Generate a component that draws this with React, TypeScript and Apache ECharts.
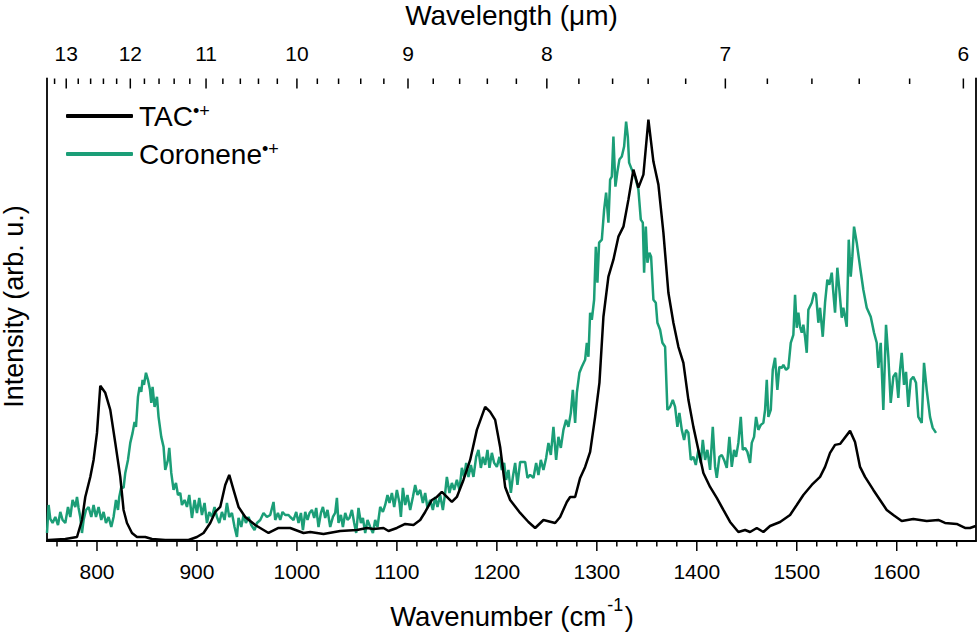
import React, { useEffect, useRef } from "react";
import * as echarts from "echarts";

// TAC•+ spectrum (wavenumber in cm-1, intensity in arb. u.)
const tacWavenumber = [
  750, 751.6, 768.3, 780, 785, 788.3, 793.3, 796.6, 800, 803.3, 808.3, 813.3, 818.3, 823.3, 826.6, 830, 835, 840,
  848.3, 855, 868.3, 891.6, 900, 906.6, 913.3, 918.3, 923.3, 928.3, 932.3, 936.6, 941.6, 948.3, 958.3, 971.6,
  981.6, 993.3, 1006.6, 1013.3, 1026.6, 1043.3, 1060, 1070, 1076.6, 1086.6, 1091.6, 1100, 1108.3, 1116.6, 1123.3,
  1128.3, 1135, 1140, 1145, 1150, 1155, 1160, 1166.6, 1173.3, 1180, 1188.3, 1193.3, 1198.3, 1203.3, 1208.3, 1213.3,
  1223.3, 1231.6, 1238.3, 1246.6, 1258.3, 1263.3, 1270, 1273.3, 1278.3, 1283.3, 1288.3, 1293.3, 1298.3, 1302.6,
  1306.6, 1311.6, 1316.6, 1321.6, 1326.6, 1331.6, 1336.6, 1341.6, 1346.6, 1351.6, 1356.6, 1361.6, 1366.6, 1371.6,
  1376.6, 1381.6, 1386.6, 1391.6, 1396.6, 1401.6, 1406.6, 1413.3, 1420, 1426.6, 1433.3, 1441.6, 1448.3, 1453.3, 1460,
  1466.6, 1473.3, 1483.3, 1493.3, 1500, 1506.6, 1515, 1523.3, 1528.3, 1533.3, 1538.3, 1543.3, 1553.3, 1558.3,
  1563.3, 1568.3, 1576.6, 1583.3, 1590, 1596.6, 1605, 1616.6, 1630, 1641.6, 1648.3, 1660, 1668.3, 1673.3, 1679,
];
const tacIntensity = [
  1, 1, 2, 4, 21, 44, 64, 81, 108, 155, 148, 131, 98, 64, 31, 18, 8, 4,
  4, 2, 1, 1, 4, 8, 18, 29, 34, 56, 66, 51, 34, 24, 16, 8,
  13, 13, 8, 9, 7, 10, 11, 13, 12, 13, 10, 13, 17, 16, 21,
  29, 41, 44, 49, 44, 39, 44, 61, 81, 111, 134, 129, 121, 94, 54, 41,
  28, 19, 13, 21, 18, 24, 39, 44, 44, 63, 74, 89, 124, 158,
  224, 264, 281, 304, 314, 341, 371, 353, 366, 421, 379, 356, 308, 248,
  218, 194, 178, 141, 114, 91, 68, 54, 43, 31, 19, 9, 11, 9, 13,
  9, 15, 19, 26, 36, 46, 56, 64, 74, 88, 96, 97, 110, 99,
  74, 64, 51, 41, 31, 26, 20, 22, 20, 21, 18, 17, 13, 13, 15,
];

// Coronene•+ spectrum
const corWavenumber = [
  750, 751.6, 753.3, 755.6, 758.3, 761, 763.3, 765.6, 768.3, 771, 773.3, 775.6, 778.3, 780, 781.6, 783.3, 785, 786.6,
  789, 791.6, 794.3, 796.6, 799, 801.6, 804.3, 806.6, 809, 811.6, 814.3, 816.6, 819, 821, 822.3, 824.3, 826.6, 828.3,
  831, 833.3, 835.6, 837.6, 839, 841, 842.6, 844.3, 845.6, 847, 849, 851, 853, 854.3, 855.6, 857.6, 860, 861.6,
  864.3, 866.6, 868.3, 871, 872.3, 874.3, 876.6, 879, 881, 883.3, 885, 887.6, 890, 892.3, 895, 897.6, 900, 902.3,
  905, 907.6, 910, 912.3, 915, 917.6, 920, 922.3, 925, 927.6, 930, 932.3, 935, 937.6, 940, 941.6, 944.3, 946.6,
  949, 951.6, 954.3, 957.6, 960, 963.3, 966.6, 970, 973.3, 976.6, 978.3, 981, 983.3, 985.6, 988.3, 991.6,
  993.3, 996.6, 999.3, 1001.6, 1004, 1006, 1008.3, 1010.6, 1012.6, 1015, 1017.3, 1019.3, 1021.6, 1024, 1026,
  1028.3, 1030.6, 1033.3, 1036, 1038.3, 1040, 1041.6, 1044, 1046, 1048.3, 1050.6, 1052.6, 1055, 1057.3, 1059.3,
  1061.6, 1064, 1066, 1068.3, 1070.6, 1073.3, 1076, 1078.3, 1080.6, 1083.3, 1086, 1088.3, 1090.6, 1092.6, 1095,
  1097.3, 1100, 1102.6, 1104, 1106, 1108.3, 1110.6, 1113.3, 1116, 1118.3, 1120.6, 1123.3, 1126, 1128.3, 1130.6,
  1133.3, 1136, 1138.3, 1140.6, 1143.3, 1146, 1148.3, 1150, 1152.6, 1155, 1157.3, 1160, 1162.6, 1165, 1167.3,
  1169.3, 1171.6, 1174, 1176.6, 1179.3, 1181.6, 1184, 1186, 1188.3, 1190.6, 1192.6, 1195, 1197.3, 1200, 1202.6,
  1205, 1207.3, 1209.3, 1211.6, 1214, 1216, 1218.3, 1220.6, 1223.3, 1228.3, 1230.6, 1233.3,
  1236.6, 1239.3, 1241.6, 1244, 1246.6, 1249.3, 1251.6, 1254, 1256.6, 1259.3, 1261.6, 1264, 1266.6, 1269.3,
  1271.6, 1274, 1276, 1278.3, 1280, 1282.6, 1285, 1288.3, 1290, 1291.6, 1293.3, 1295, 1297.3, 1299, 1300.6,
  1302.3, 1305, 1307.3, 1309.3, 1311.6, 1313.3, 1315, 1316.6, 1318.6, 1320.6, 1322.6, 1325, 1327.3, 1329.3, 1331,
  1332.3, 1335, 1338.3, 1341.6, 1344, 1346, 1347.3, 1349, 1350.6, 1352.6, 1354.3, 1356.6, 1359, 1360.6, 1363.3,
  1365.6, 1368.3, 1370.6, 1373.3, 1376, 1378.3, 1380.6, 1382.6, 1385, 1387.3, 1389.3, 1391.6, 1394, 1396.6, 1399,
  1401.6, 1404, 1406, 1408.3, 1410.6, 1413.3, 1416, 1418.3, 1420, 1422.6, 1425, 1427.3, 1430, 1432.6, 1435,
  1437.3, 1439.3, 1441.6, 1444, 1446, 1448.3, 1450.6,
  1453.3, 1455, 1457.3, 1459.3, 1461.6, 1464, 1466.6, 1468.3, 1470, 1471.6, 1474, 1476, 1478.3, 1480.6, 1482.6,
  1485, 1486.6, 1489.3, 1491.6, 1494, 1496.6, 1498.3, 1500, 1501.6, 1503.3, 1505, 1506.6, 1508.3, 1510, 1511.6,
  1515, 1517.3, 1519.3, 1521.6, 1523.3, 1526, 1528.3, 1530.6, 1532.6, 1535, 1536.6, 1538.3, 1540.6, 1542.6, 1545,
  1546.6, 1548.3, 1550, 1552, 1554, 1555.6, 1557.3, 1560, 1563.3, 1566.6, 1570, 1574, 1577.3, 1580, 1581.6, 1584,
  1586.6, 1589.3, 1591.6, 1594, 1596.6, 1599.3, 1601.6, 1603.3, 1605, 1607.3, 1609.3, 1611.6, 1614, 1616.6,
  1619.3, 1621.6, 1625, 1627.3, 1630, 1633.3, 1636, 1639.3,
];
const corIntensity = [
  8, 36, 22, 18, 24, 16, 29, 21, 18, 34, 24, 41, 34, 44, 33, 24, 8, 21,
  31, 34, 24, 36, 24, 34, 21, 29, 18, 24, 14, 24, 41, 31, 44, 54, 53, 68,
  81, 98, 108, 119, 114, 144, 154, 149, 161, 156, 168, 161, 151, 138, 154, 134, 144, 124,
  104, 94, 71, 81, 93, 68, 51, 58, 46, 48, 36, 41, 34, 46, 23, 41, 28, 43,
  26, 38, 18, 29, 24, 34, 24, 18, 29, 21, 38, 24, 28, 14, 4, 23, 14, 26,
  18, 24, 16, 11, 18, 21, 28, 24, 26, 39, 21, 28, 21, 29, 26, 26,
  24, 21, 29, 18, 28, 11, 29, 21, 28, 31, 23, 33, 14, 28, 34,
  23, 31, 14, 24, 28, 43, 18, 26, 14, 28, 21, 23, 31, 18, 8,
  33, 18, 23, 8, 21, 14, 8, 21, 14, 34, 29, 36, 46, 38, 48,
  34, 51, 38, 24, 53, 36, 46, 31, 44, 56, 46, 51, 38, 48, 33,
  41, 31, 44, 34, 46, 31, 48, 64, 48, 58, 51, 61, 51, 73, 64,
  78, 64, 76, 64, 84, 91, 73, 84, 76, 91, 73, 88, 78, 74, 84,
  71, 78, 61, 71, 48, 64, 78, 56, 79, 79, 63, 66,
  63, 78, 66, 81, 71, 83, 98, 86, 114, 81, 104, 93, 111, 121,
  114, 128, 151, 118, 148, 168, 174, 181, 198, 184, 228, 221, 241, 294, 258,
  298, 301, 331, 348, 318, 361, 364, 404, 354, 369, 381, 384, 394, 419, 404,
  378, 371, 364, 351, 321, 318, 268, 314, 278, 288, 284, 241, 238, 218, 211,
  198, 194, 131, 134, 141, 134, 114, 128, 111, 101, 111, 108, 81, 84, 76,
  91, 78, 101, 81, 91, 71, 114, 74, 63, 84, 86, 81, 73, 104, 74,
  91, 84, 98, 124, 91, 93, 89,
  78, 98, 104, 124, 111, 116, 118, 131, 161, 124, 131, 171, 183, 151, 174,
  173, 176, 171, 173, 198, 206, 246, 213, 228, 214, 208, 216, 204, 188, 231,
  238, 248, 246, 218, 233, 204, 238, 261, 256, 268, 248, 228, 273, 251, 223,
  233, 224, 214, 301, 264, 284, 314, 298, 274, 251, 233, 224, 208, 198, 173, 198,
  131, 216, 184, 138, 164, 168, 143, 171, 188, 156, 169, 134, 161, 164,
  158, 124, 118, 178, 151, 124, 113, 108,
];

// Axes
const wavenumberTicks = [800, 900, 1000, 1100, 1200, 1300, 1400, 1500, 1600];
const wavenumberMinorTicks = [
  760, 780, 820, 840, 860, 880, 920, 940, 960, 980, 1020, 1040, 1060, 1080, 1120, 1140, 1160, 1180,
  1220, 1240, 1260, 1280, 1320, 1340, 1360, 1380, 1420, 1440, 1460, 1480, 1520, 1540, 1560, 1580, 1620, 1640, 1660,
];
const wavelengthTicks = [13, 12, 11, 10, 9, 8, 7, 6];
const wavelengthMinorTicks = [
  13.2, 12.8, 12.6, 12.4, 12.2, 11.8, 11.6, 11.4, 11.2, 10.8, 10.6, 10.4, 10.2, 9.8, 9.6, 9.4, 9.2,
  8.8, 8.6, 8.4, 8.2, 7.8, 7.6, 7.4, 7.2, 6.8, 6.6, 6.4, 6.2,
];

const FONT = "'Liberation Sans', Arial, sans-serif";
const GREEN = "#1b9e77";
const X_MIN = 750;
const X_MAX = 1679;
const Y_MAX = 462;
const MAJOR_LEN = 10;
const MINOR_LEN = 5.5;

const toWavenumber = (um: number) => 10000 / um;

function measure(text: string, size: number): number {
  const ctx = document.createElement("canvas").getContext("2d");
  if (!ctx) return text.length * size * 0.55;
  ctx.font = `${size}px 'Liberation Sans', Arial, sans-serif`;
  return ctx.measureText(text).width;
}

export default function App() {
  const ref = useRef<HTMLDivElement>(null);

  useEffect(() => {
    if (!ref.current) return;
    const chart = echarts.init(ref.current, undefined, { renderer: "svg" });

    const axisLine = { show: true, lineStyle: { color: "#000", width: 1.8 } };

    const bottomTicks = [
      ...wavenumberTicks.map((v) => [v, MAJOR_LEN]),
      ...wavenumberMinorTicks.map((v) => [v, MINOR_LEN]),
    ];
    const topTicks = [
      ...wavelengthTicks.map((l) => [toWavenumber(l), MAJOR_LEN]),
      ...wavelengthMinorTicks.map((l) => [toWavenumber(l), MINOR_LEN]),
    ];

    const tickSeries = (data: number[][], top: boolean) => ({
      type: "custom",
      xAxisIndex: 0,
      yAxisIndex: 0,
      silent: true,
      clip: false,
      z: 10,
      encode: { x: 0 },
      data,
      renderItem: (_params: any, api: any) => {
        const v = api.value(0);
        const len = api.value(1);
        const p = api.coord([v, top ? Y_MAX : 0]);
        return {
          type: "line",
          shape: { x1: p[0], y1: p[1], x2: p[0], y2: p[1] + len },
          style: { stroke: "#000", lineWidth: 1.5 },
        };
      },
    });

    // bottom title with superscript, laid out piecewise
    const tSize = 27.5;
    const supSize = 18;
    const part1 = "Wavenumber (cm";
    const sup = "-1";
    const part2 = ")";
    const w1 = measure(part1, tSize);
    const ws = measure(sup, supSize);
    const w2 = measure(part2, tSize);
    const totalW = w1 + 1 + ws + 1.5 + w2;
    const x0 = 512 - totalW / 2;
    const titleY = 616.3;

    const option: any = {
      animation: false,
      backgroundColor: "#fff",
      grid: { left: 47, right: 4.3, top: 78.5, bottom: 92, containLabel: false },
      legend: {
        orient: "vertical",
        left: 66,
        top: 102,
        padding: 0,
        itemGap: 8,
        itemWidth: 67,
        itemHeight: 4,
        icon: "roundRect",
        selectedMode: false,
        data: ["TAC", "Coronene"],
        formatter: (name: string) => `{a|${name}}{s|•+}`,
        textStyle: {
          fontFamily: FONT,
          color: "#000",
          rich: {
            a: { fontFamily: FONT, fontSize: 28, lineHeight: 28, color: "#000", verticalAlign: "bottom", padding: [0, 0, 0, 1] },
            s: { fontFamily: FONT, fontSize: 18, lineHeight: 18, color: "#000", verticalAlign: "top", padding: [0, 0, 12, 0] },
          },
        },
      },
      xAxis: [
        {
          type: "value",
          position: "bottom",
          min: X_MIN,
          max: X_MAX,
          axisLine,
          splitLine: { show: false },
          axisTick: { show: false },
          axisLabel: {
            show: true,
            customValues: wavenumberTicks,
            formatter: (v: number) => String(v),
            margin: 20,
            fontSize: 21,
            fontFamily: FONT,
            color: "#000",
          },
        },
        {
          type: "value",
          position: "top",
          min: X_MIN,
          max: X_MAX,
          axisLine,
          splitLine: { show: false },
          axisTick: { show: false },
          axisLabel: {
            show: true,
            customValues: wavelengthTicks.map(toWavenumber),
            formatter: (v: number) => String(Math.round(10000 / v)),
            margin: 15,
            fontSize: 21,
            fontFamily: FONT,
            color: "#000",
          },
        },
      ],
      yAxis: [
        {
          type: "value",
          position: "left",
          min: 0,
          max: Y_MAX,
          axisLine,
          axisTick: { show: false },
          axisLabel: { show: false },
          splitLine: { show: false },
        },
        {
          type: "value",
          position: "right",
          min: 0,
          max: Y_MAX,
          axisLine,
          axisTick: { show: false },
          axisLabel: { show: false },
          splitLine: { show: false },
        },
      ],
      series: [
        {
          name: "TAC",
          type: "line",
          xAxisIndex: 0,
          yAxisIndex: 0,
          symbol: "none",
          showSymbol: false,
          color: "#000",
          lineStyle: { color: "#000", width: 2.5 },
          data: tacWavenumber.map((w, i) => [w, tacIntensity[i]]),
          z: 3,
        },
        {
          name: "Coronene",
          type: "line",
          xAxisIndex: 0,
          yAxisIndex: 0,
          symbol: "none",
          showSymbol: false,
          color: GREEN,
          lineStyle: { color: GREEN, width: 2.5 },
          data: corWavenumber.map((w, i) => [w, corIntensity[i]]),
          z: 2,
        },
        tickSeries(bottomTicks, false),
        tickSeries(topTicks, true),
      ],
      graphic: [
        {
          type: "text",
          x: x0,
          y: titleY,
          style: { text: part1, align: "left", verticalAlign: "middle", font: `${tSize}px ${FONT}`, fill: "#000" },
        },
        {
          type: "text",
          x: x0 + w1 + 1,
          y: titleY - 11,
          style: { text: sup, align: "left", verticalAlign: "middle", font: `${supSize}px ${FONT}`, fill: "#000" },
        },
        {
          type: "text",
          x: x0 + w1 + 1 + ws + 1.5,
          y: titleY,
          style: { text: part2, align: "left", verticalAlign: "middle", font: `${tSize}px ${FONT}`, fill: "#000" },
        },
        {
          type: "text",
          x: 511.5,
          y: 15.5,
          style: {
            text: "Wavelength (μm)",
            align: "center",
            verticalAlign: "middle",
            font: `28px ${FONT}`,
            fill: "#000",
          },
        },
        {
          type: "text",
          x: 14,
          y: 306.5,
          rotation: Math.PI / 2,
          style: {
            text: "Intensity (arb. u.)",
            align: "center",
            verticalAlign: "middle",
            font: `27px ${FONT}`,
            fill: "#000",
          },
        },
      ],
    };

    chart.setOption(option);
    return () => chart.dispose();
  }, []);

  return (
    <div
      ref={ref}
      style={{ position: "fixed", left: 0, top: 0, width: 980, height: 633, background: "#fff" }}
    />
  );
}
